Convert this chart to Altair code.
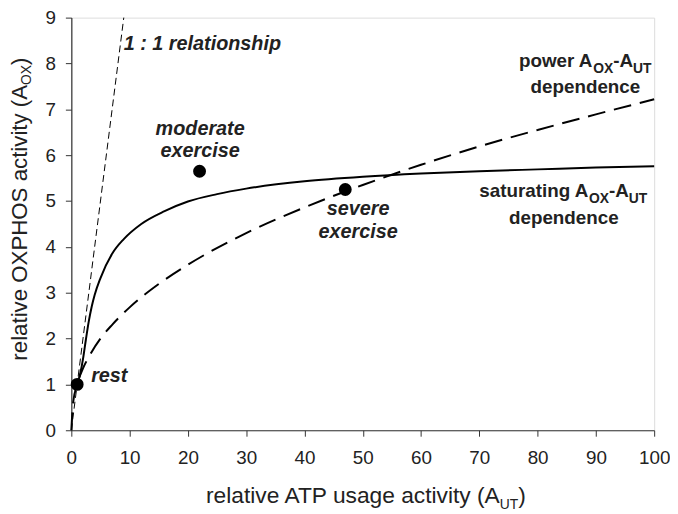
import altair as alt
import pandas as pd

# ---- data ----
sat_x = [1, 1.5, 2, 2.5, 3, 3.5, 4, 5, 7, 9, 12, 16, 20, 25, 30, 40, 50, 60, 70, 80, 90, 100]
sat_y = [1.0, 1.22, 1.55, 1.98, 2.38, 2.7, 2.95, 3.32, 3.85, 4.17, 4.5, 4.78, 4.99, 5.15, 5.27, 5.43, 5.53, 5.6, 5.65, 5.69, 5.73, 5.76]

pow_x = [0, 0.3, 1, 2, 3, 5, 7, 10, 15, 20, 30, 40, 50, 60, 70, 80, 90, 100]
pow_y = [0, 0.6, 1.0, 1.35, 1.6, 2.0, 2.3, 2.68, 3.19, 3.61, 4.30, 4.86, 5.35, 5.79, 6.19, 6.55, 6.89, 7.22]

one_x = [0, 9]
one_y = [0, 9]

pt_x = [1, 22, 47]
pt_y = [1.0, 5.65, 5.25]

x_ticks = [0, 10, 20, 30, 40, 50, 60, 70, 80, 90, 100]
y_ticks = [0, 1, 2, 3, 4, 5, 6, 7, 8, 9]

FONT = "Liberation Sans"
TXT = "#222222"

xs = alt.Scale(domain=[0, 100], nice=False, zero=False)
ys = alt.Scale(domain=[0, 9], nice=False, zero=False)
xaxis = alt.Axis(values=x_ticks, title=None, grid=False, tickSize=6, labelPadding=13,
                 labelFontSize=19, labelFont=FONT, labelColor=TXT, domainColor="#333333",
                 tickColor="#333333", domainWidth=1.2, labelFlush=False)
yaxis = alt.Axis(values=y_ticks, title=None, grid=False, tickSize=6, labelPadding=10,
                 labelFontSize=19, labelFont=FONT, labelColor=TXT, domainColor="#333333",
                 tickColor="#333333", domainWidth=1.2, labelFlush=False)


def X():
    return alt.X("x:Q", scale=xs, axis=xaxis)


def Y():
    return alt.Y("y:Q", scale=ys, axis=yaxis)


sat = alt.Chart(pd.DataFrame({"x": sat_x, "y": sat_y})).mark_line(
    color="black", strokeWidth=2, interpolate="monotone").encode(x=X(), y=Y())
pw = alt.Chart(pd.DataFrame({"x": pow_x, "y": pow_y})).mark_line(
    color="black", strokeWidth=2, strokeDash=[18, 9], interpolate="monotone").encode(x=X(), y=Y())
one = alt.Chart(pd.DataFrame({"x": one_x, "y": one_y})).mark_line(
    color="black", strokeWidth=1, strokeDash=[7, 4]).encode(x=X(), y=Y())
pts = alt.Chart(pd.DataFrame({"x": pt_x, "y": pt_y})).mark_circle(
    color="black", size=170, opacity=1).encode(x=X(), y=Y())


def label(text, x, y, size=19, align="left", italic=False, dx=0, dy=0, bold=True):
    df = pd.DataFrame({"x": [x], "y": [y], "t": [text]})
    return alt.Chart(df).mark_text(
        align=align, baseline="alphabetic", font=FONT, fontSize=size,
        fontWeight="bold" if bold else "normal",
        fontStyle="italic" if italic else "normal",
        color=TXT, dx=dx, dy=dy).encode(x=X(), y=Y(), text="t:N")


labels = [
    label("1 : 1 relationship", 9.0, 8.3, size=20, italic=True),
    label("moderate", 22.1, 6.45, size=20, align="center", italic=True),
    label("exercise", 22.1, 5.95, size=20, align="center", italic=True),
    label("rest", 3.4, 1.06, size=20, italic=True),
    label("severe", 49.2, 4.7, size=20, align="center", italic=True),
    label("exercise", 49.2, 4.2, size=20, align="center", italic=True),
    # power A_OX-A_UT dependence
    label("power A", 76.8, 7.93),
    label("OX", 76.8, 7.93, size=14, dx=75, dy=6),
    label("-A", 76.8, 7.93, dx=95.2),
    label("UT", 76.8, 7.93, size=14, dx=115.2, dy=6),
    label("dependence", 88.2, 7.35, align="center"),
    # saturating A_OX-A_UT dependence
    label("saturating A", 70.0, 5.08),
    label("OX", 70.0, 5.08, size=14, dx=110.8, dy=6),
    label("-A", 70.0, 5.08, dx=131),
    label("UT", 70.0, 5.08, size=14, dx=151, dy=6),
    label("dependence", 84.5, 4.5, align="center"),
]

one_row = pd.DataFrame({"t": ["a"]})


def ptext(text, px, py, size, align, angle=0, dx=0, dy=0):
    kw = dict(align=align, baseline="alphabetic", font=FONT, fontSize=size,
              color=TXT, dx=dx, dy=dy, text=text)
    if angle:
        kw["angle"] = angle
    return alt.Chart(one_row).mark_text(**kw).encode(x=alt.value(px), y=alt.value(py))


titles = [
    ptext("relative ATP usage activity (A", 433, 491, 23, "right"),
    ptext("UT", 433, 491, 14, "left", dy=6),
    ptext(")", 433, 491, 23, "left", dx=18.7),
    ptext("relative OXPHOS activity (A", -45, 68, 22.5, "right", angle=270),
    ptext("OX", -45, 68, 14, "left", angle=270, dy=4),
    ptext(")", -45, 68, 22.5, "left", angle=270, dx=20.2),
]

chart = alt.layer(one, pw, sat, pts, *labels, *titles).properties(
    width=589, height=417,
    autosize=alt.AutoSizeParams(type="none"),
    padding={"left": 64, "top": 7, "right": 16, "bottom": 92},
).configure_view(stroke="#333333", strokeWidth=1.2).configure(background="white")

chart.save("out.html", embed_options={"renderer": "svg", "actions": False})
